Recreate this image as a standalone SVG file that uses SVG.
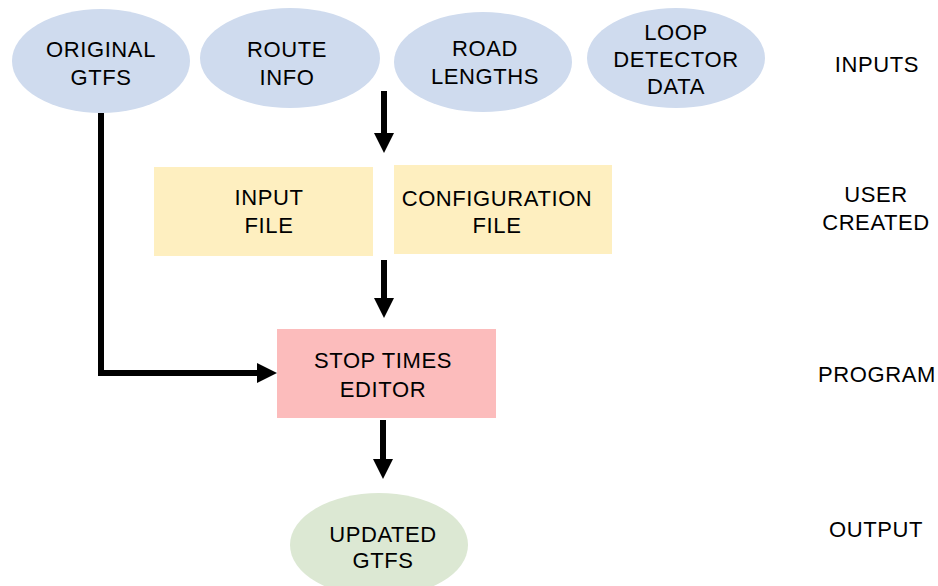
<svg xmlns="http://www.w3.org/2000/svg" width="938" height="586" viewBox="0 0 938 586">
<style>
text{font-family:"Liberation Sans",Arial,sans-serif;font-size:22px;letter-spacing:0.6px;fill:#000;text-anchor:middle}
.in{fill:#cfdbee}
.uc{fill:#feefc0}
.pg{fill:#fcbcbc}
.out{fill:#dce8d3}
.ln{stroke:#000;stroke-width:6;fill:none}
</style>
<defs>
<marker id="ah" markerUnits="userSpaceOnUse" markerWidth="21" markerHeight="20" refX="0" refY="10" orient="auto" overflow="visible">
<path d="M0,0 L20,10 L0,20 Z" fill="#000"/>
</marker>
</defs>
<rect width="938" height="586" fill="#fff"/>
<g id="connectors">
<path class="ln" d="M384,91 V133" marker-end="url(#ah)"/>
<path class="ln" d="M384,260 V298" marker-end="url(#ah)"/>
<path class="ln" d="M101,113 V373 H257" marker-end="url(#ah)"/>
<path class="ln" d="M383,420 V459" marker-end="url(#ah)"/>
</g>
<g id="original-gtfs"><ellipse class="in" cx="101" cy="61" rx="89" ry="52"/><text x="101" y="57">ORIGINAL</text><text x="101" y="85">GTFS</text></g>
<g id="route-info"><ellipse class="in" cx="290" cy="58" rx="90" ry="50"/><text x="287" y="57">ROUTE</text><text x="287" y="85">INFO</text></g>
<g id="road-lengths"><ellipse class="in" cx="483" cy="62" rx="89" ry="50"/><text x="485" y="56">ROAD</text><text x="485" y="84">LENGTHS</text></g>
<g id="loop-detector"><ellipse class="in" cx="676" cy="58" rx="89" ry="50"/><text x="676" y="40">LOOP</text><text x="676" y="67">DETECTOR</text><text x="676" y="94">DATA</text></g>
<g id="input-file"><rect class="uc" x="154" y="167" width="219" height="89"/><text x="269" y="205">INPUT</text><text x="269" y="233">FILE</text></g>
<g id="config-file"><rect class="uc" x="394" y="165" width="218" height="89"/><text x="497" y="206">CONFIGURATION</text><text x="497" y="233">FILE</text></g>
<g id="stop-times-editor"><rect class="pg" x="277" y="329" width="219" height="89"/><text x="383" y="368">STOP TIMES</text><text x="383" y="397">EDITOR</text></g>
<g id="updated-gtfs"><ellipse class="out" cx="379" cy="545" rx="89" ry="52"/><text x="383" y="542">UPDATED</text><text x="383" y="568">GTFS</text></g>
<g id="labels">
<text x="877" y="72">INPUTS</text>
<text x="876" y="202">USER</text><text x="876" y="230">CREATED</text>
<text x="877" y="382">PROGRAM</text>
<text x="876" y="537">OUTPUT</text>
</g>
</svg>
